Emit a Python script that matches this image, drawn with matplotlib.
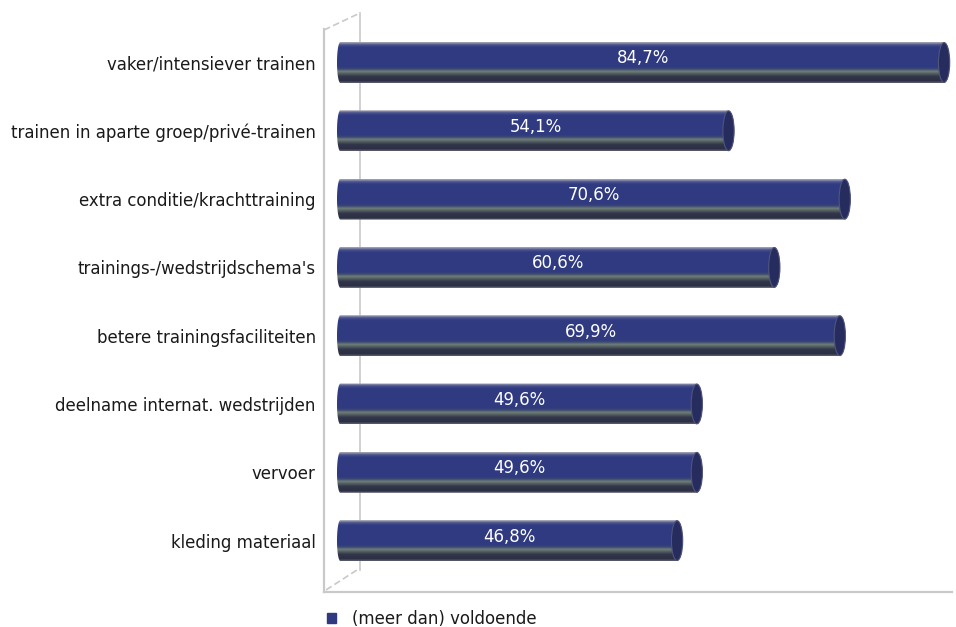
import numpy as np
import matplotlib
matplotlib.use("Agg")
import matplotlib.pyplot as plt
from matplotlib.path import Path
from matplotlib.patches import PathPatch, Ellipse, Rectangle
from matplotlib.colors import to_rgb

categories = ["vaker/intensiever trainen",
              "trainen in aparte groep/privé-trainen",
              "extra conditie/krachttraining",
              "trainings-/wedstrijdschema's",
              "betere trainingsfaciliteiten",
              "deelname internat. wedstrijden",
              "vervoer",
              "kleding materiaal"]
values = [84.7, 54.1, 70.6, 60.6, 69.9, 49.6, 49.6, 46.8]
value_labels = ["84,7%", "54,1%", "70,6%", "60,6%", "69,9%", "49,6%", "49,6%", "46,8%"]
legend_label = "(meer dan) voldoende"

plt.rcParams['font.family'] = ['DejaVu Sans']
plt.rcParams['font.stretch'] = 'condensed'

W, H = 956, 627
fig = plt.figure(figsize=(W / 100, H / 100), dpi=100)
fig.patch.set_facecolor("white")

# background axes in pixel coords for the 3d frame lines
bg = fig.add_axes([0, 0, 1, 1], zorder=0)
bg.set_xlim(0, W)
bg.set_ylim(H, 0)
bg.axis('off')
fc = "#c9c9c9"
bg.plot([324, 324], [29, 592], color=fc, lw=1.6)
bg.plot([324, 952], [592, 592], color=fc, lw=1.6)
bg.plot([360, 360], [13, 570], color=fc, lw=1.2)
bg.plot([324, 360], [30, 13], color=fc, lw=1.2, ls=(0, (4, 2)))
bg.plot([326, 360], [590, 568], color=fc, lw=1.2, ls=(0, (4, 2)))

# legend
bg.add_patch(Rectangle((327, 613), 9, 10, color="#2f3a80"))
bg.text(352, 619, legend_label, fontsize=13.2, va='center', ha='left', color="#1a1a1a")

# main axes: x in percent, y in category index
x_lo, x_hi = (324 - 353) / 7.045, (952 - 353) / 7.045
y_top, y_bot = (10 - 62.5) / 68.3, (592 - 62.5) / 68.3
ax = fig.add_axes([324 / W, 1 - 592 / H, (952 - 324) / W, (592 - 10) / H], zorder=1)
ax.patch.set_alpha(0)

# vertical colour profile of a cylinder bar (top -> bottom)
stops = [0.0, 0.06, 0.12, 0.60, 0.66, 0.72, 0.78, 0.84, 0.95, 1.0]
cols = ["#a4a4b2", "#4c548f", "#303b82", "#2f3a80", "#3c4772",
        "#6f8078", "#505a5e", "#33374c", "#2c2f44", "#5a5c6c"]
rgb = np.array([to_rgb(c) for c in cols])
tt = np.linspace(0, 1, 64)
grad = np.stack([np.interp(tt, stops, rgb[:, k]) for k in range(3)], axis=1)[:, None, :]

bh = 0.6
off = (337 - 353) / 7.045
rx = 0.8
for i, v in enumerate(values):
    y0, y1 = i - bh / 2, i + bh / 2
    xr = v - rx
    xl = off + rx * 0.6
    th = np.linspace(-np.pi / 2, np.pi / 2, 40)
    right = np.column_stack([xr + rx * np.cos(th), i + bh / 2 * np.sin(th)])
    left = np.column_stack([xl - rx * 0.6 * np.cos(th[::-1]), i + bh / 2 * np.sin(th[::-1])])
    pts = np.vstack([right, left, right[:1]])
    clip = PathPatch(Path(pts), transform=ax.transData, fc='none', ec='none')
    ax.add_patch(clip)
    im = ax.imshow(grad, extent=[off, v, y1, y0], aspect='auto', zorder=2)
    im.set_clip_path(clip)
    # end cap
    ax.add_patch(Ellipse((xr, i), 2 * rx, bh * 0.97, fc="#262c5e", ec="#50557c",
                         lw=0.8, zorder=3))
    ax.text((off + v) / 2, i - 0.06, value_labels[i], color="white", fontsize=13.2,
            ha='center', va='center', zorder=4)

ax.set_xlim(x_lo, x_hi)
ax.set_ylim(y_bot, y_top)
ax.set_yticks(range(len(categories)))
ax.set_yticklabels(categories, fontsize=13.2, color="#1a1a1a")
ax.tick_params(axis='y', length=0, pad=6)
ax.set_xticks([])
for s in ax.spines.values():
    s.set_visible(False)

fig.savefig("out.png", dpi=100)
